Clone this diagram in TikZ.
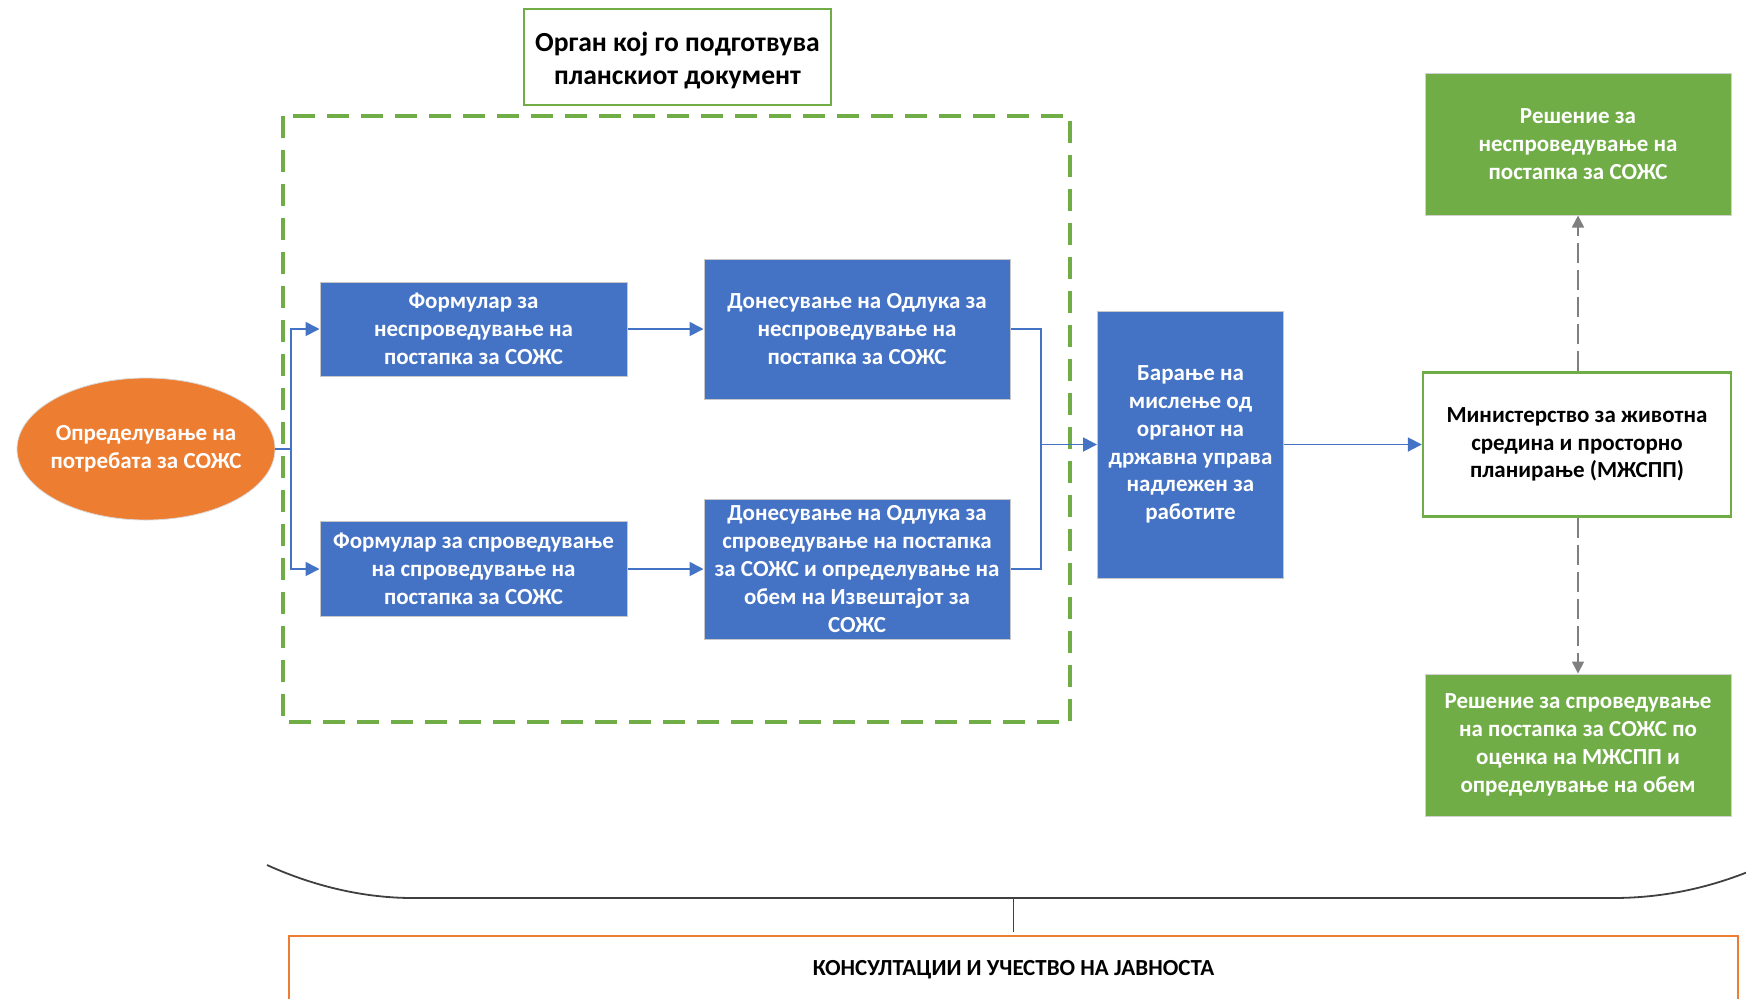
\documentclass[tikz,border=0pt]{standalone}
\usepackage{fontspec}
\setmainfont{Carlito}
\usetikzlibrary{arrows.meta,shapes.geometric}
\definecolor{cblue}{HTML}{4472C4}
\definecolor{cgreen}{HTML}{70AD47}
\definecolor{corange}{HTML}{ED7D31}
\definecolor{cgray}{HTML}{7F7F7F}
\definecolor{cdark}{HTML}{404040}
\newcommand{\lowr}[1]{\raisebox{-1.7pt}[\height][\depth]{#1}}
\tikzset{
  base/.style={align=center, inner sep=2pt, font=\bfseries\fontsize{11.5}{13.9}\selectfont},
  bluebox/.style={base, rectangle, fill=cblue, draw=black!22, line width=0.5pt, text=white},
  greenbox/.style={base, rectangle, fill=cgreen, draw=black!18, line width=0.5pt, text=white},
  whitebox/.style={base, rectangle, fill=white, draw=cgreen, line width=1.2pt, text=black},
  ovalbox/.style={base, ellipse, fill=corange, draw=black!15, line width=0.4pt, text=white, inner xsep=-5pt, inner ysep=0pt},
  arr/.style={draw=cblue, line width=0.9pt, -{Triangle[length=7pt,width=7pt]}},
  ln/.style={draw=cblue, line width=0.9pt},
  garr/.style={draw=cgray, line width=0.8pt, dash pattern=on 10pt off 3.5pt, -{Triangle[length=6pt,width=6pt]}},
  dashbox/.style={draw=cgreen, line width=1.6pt, dash pattern=on 11pt off 6pt},
}
\begin{document}
\begin{tikzpicture}[x=0.5pt, y=-0.5pt]
\useasboundingbox (0,0) rectangle (1746,998);
% group frame
\draw[dashbox] (283,116) rectangle (1070,722);
% nodes
\node[whitebox, line width=0.7pt, minimum width=153.5pt, minimum height=48pt, font=\bfseries\fontsize{13.8}{16.6}\selectfont] (org) at (677.5,57) {\lowr{Орган кој го подготвува}\\\lowr{планскиот документ}};
\node[ovalbox, minimum width=129pt, minimum height=71pt] (ell) at (146,449) {Определување на\\потребата за СОЖС};
\node[bluebox, minimum width=153.5pt, minimum height=47pt] (f1) at (473.5,329) {Формулар за\\неспроведување на\\постапка за СОЖС};
\node[bluebox, minimum width=153.5pt, minimum height=47.5pt] (f2) at (473.5,569) {Формулар за спроведување\\на спроведување на\\постапка за СОЖС};
\node[bluebox, minimum width=153pt, minimum height=70pt] (d1) at (857,329) {Донесување на Одлука за\\неспроведување на\\постапка за СОЖС};
\node[bluebox, minimum width=153pt, minimum height=70pt] (d2) at (857,569) {Донесување на Одлука за\\спроведување на постапка\\за СОЖС и определување на\\обем на Извештајот за\\СОЖС};
\node[bluebox, minimum width=93pt, minimum height=133.5pt] (b) at (1190.5,444.5) {Барање на\\мислење од\\органот на\\државна управа\\надлежен за\\работите};
\node[whitebox, minimum width=154pt, minimum height=72pt] (m) at (1577,444.5) {Министерство за животна\\средина и просторно\\планирање (МЖСПП)};
\node[greenbox, minimum width=153pt, minimum height=71pt] (gt) at (1578,144) {Решение за\\неспроведување на\\постапка за СОЖС};
\node[greenbox, minimum width=153pt, minimum height=71pt] (gb) at (1578,745) {Решение за спроведување\\на постапка за СОЖС по\\оценка на МЖСПП и\\определување на обем};
\node[rectangle, draw=corange, line width=1.3pt, minimum width=724.5pt, minimum height=40pt, outer sep=0pt, anchor=north west] (cons) at (289,936) {};
\node[base, text=black] (constext) at (1013.5,970) {КОНСУЛТАЦИИ И УЧЕСТВО НА ЈАВНОСТА};
% connectors
\coordinate (split) at (291,449);
\coordinate (merge) at (1041,444.5);
\draw[ln] (ell.east) -- (split);
\draw[arr] (split) |- (f1.west);
\draw[arr] (split) |- (f2.west);
\draw[arr] (f1.east) -- (d1.west);
\draw[arr] (f2.east) -- (d2.west);
\draw[ln] (d1.east) -| (merge);
\draw[ln] (d2.east) -| (merge);
\draw[arr] (merge) -- (b.west);
\draw[arr] (b.east) -- (m.west);
\draw[garr] (m.north -| gt.south) -- (gt.south);
\draw[garr] (m.south -| gb.north) -- (gb.north);
% brace
\coordinate (bt) at (1013.5,898);
\draw[draw=cdark, line width=0.9pt] (267,865) .. controls (320,889) and (370,898) .. (413,898) -- (1613,898) .. controls (1660,898) and (1710,889) .. (1762,866);
\draw[draw=cdark, line width=0.8pt] (bt) -- ([yshift=2pt]bt |- cons.north);
\end{tikzpicture}
\end{document}
